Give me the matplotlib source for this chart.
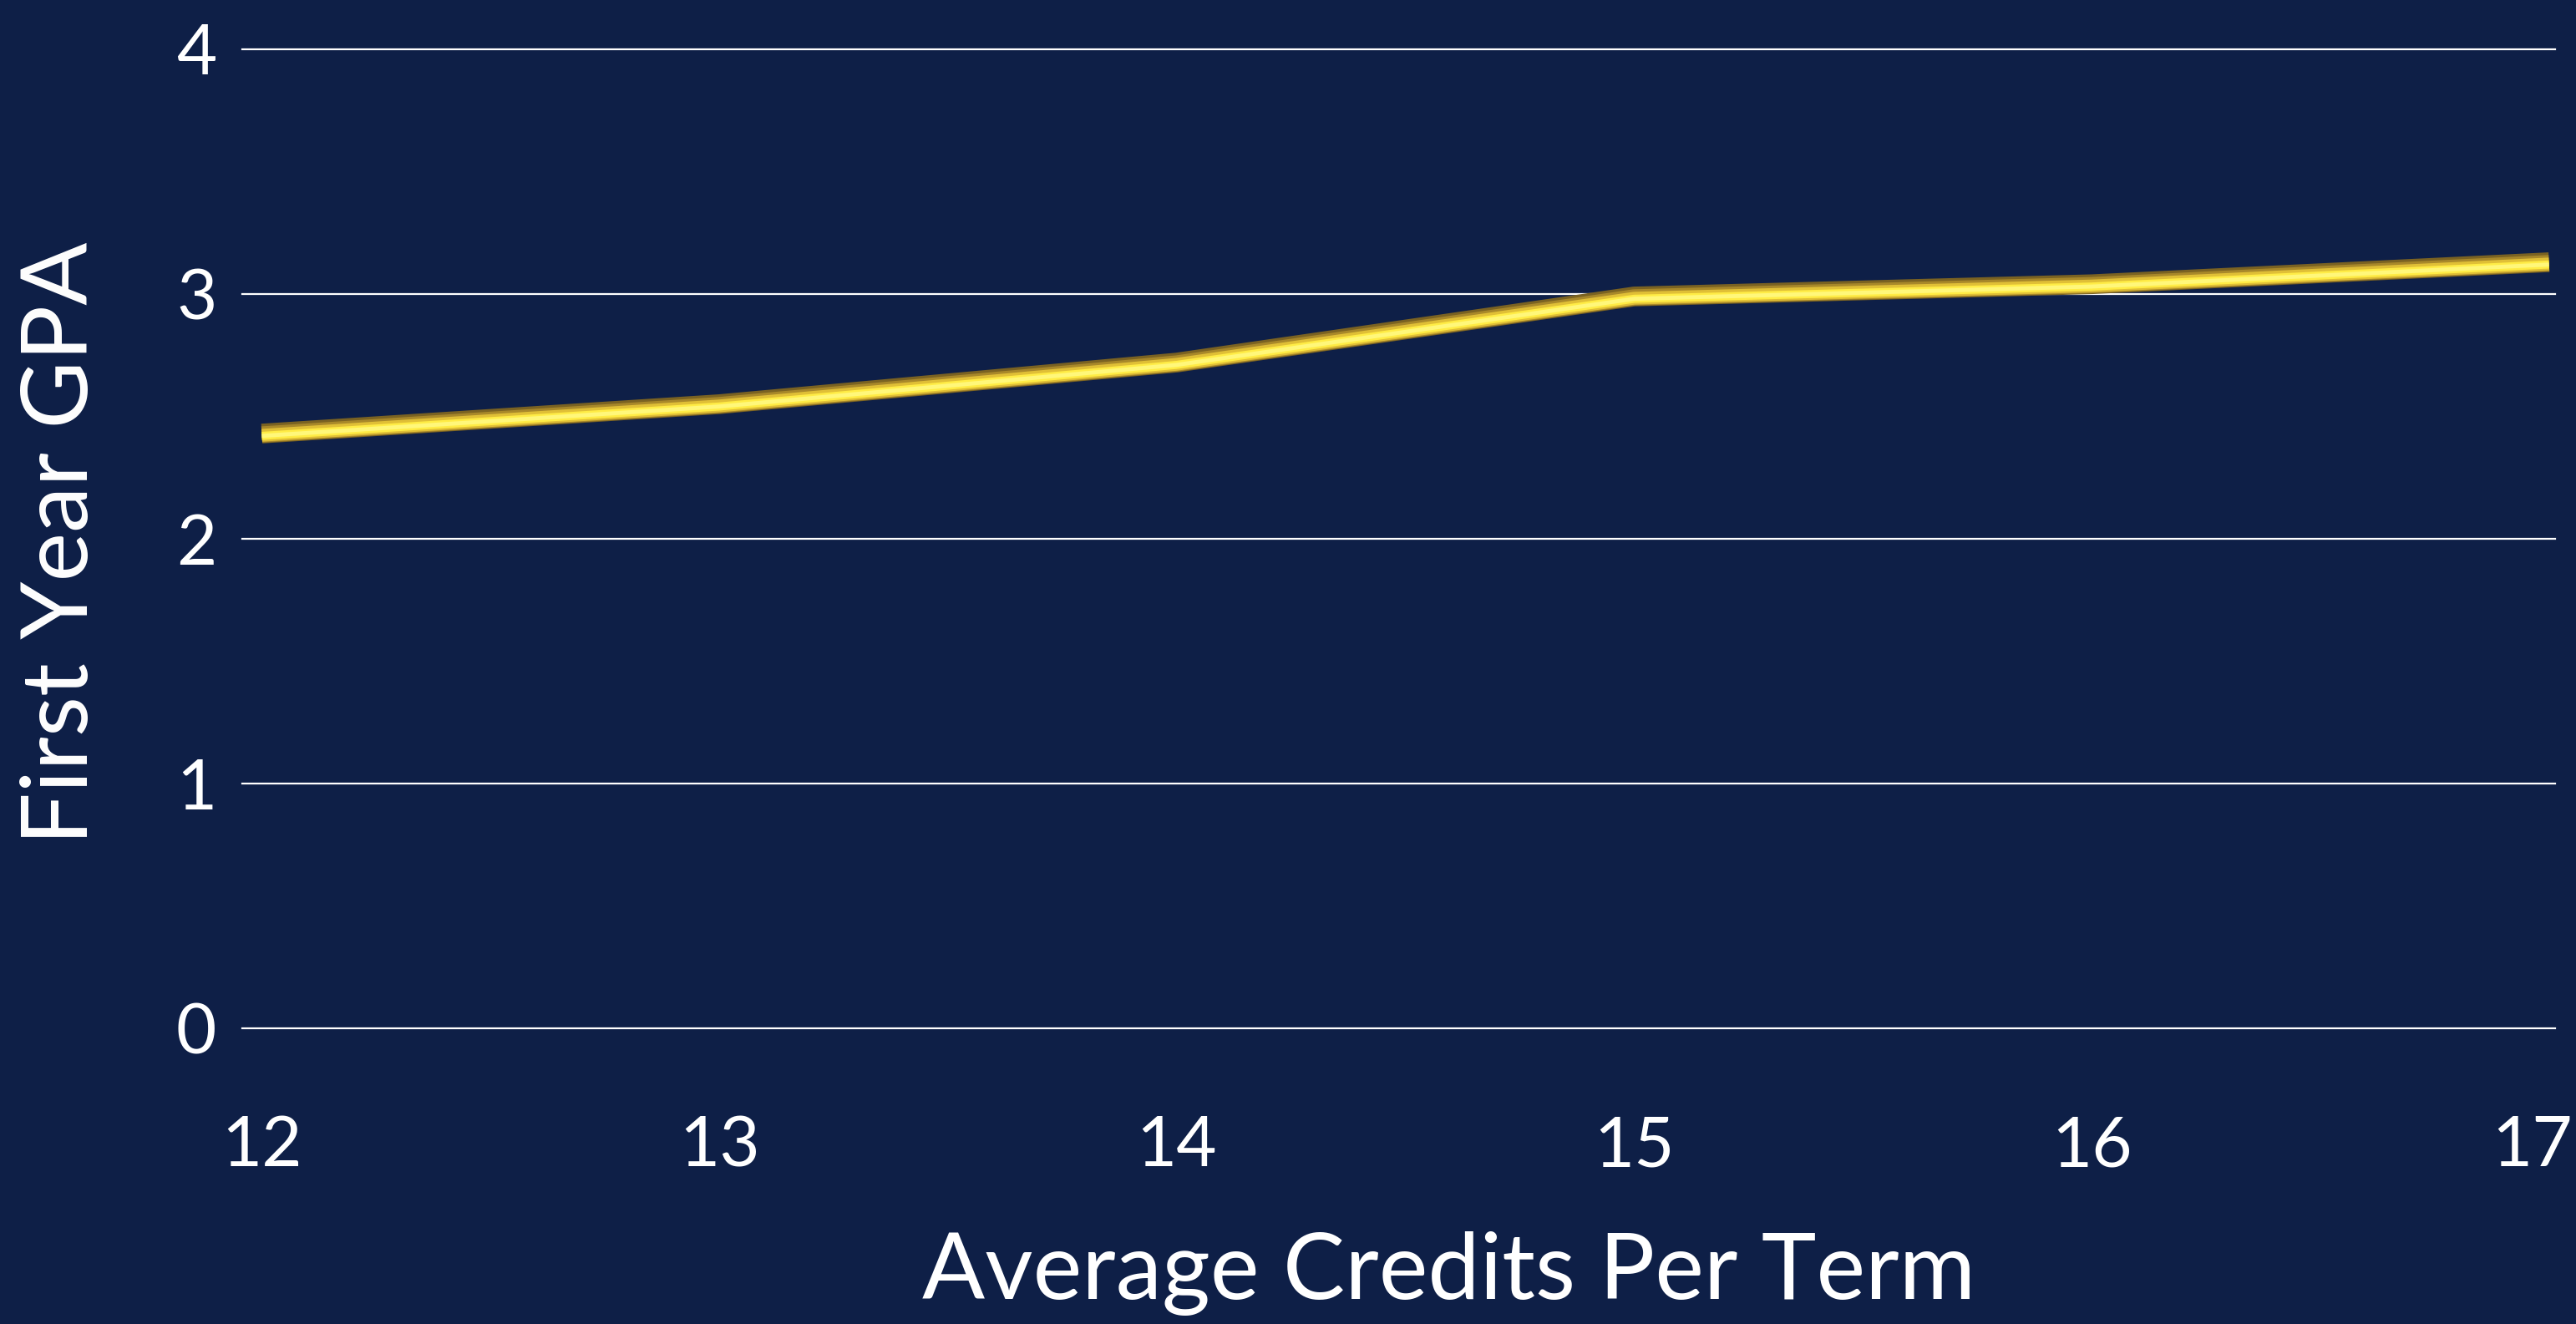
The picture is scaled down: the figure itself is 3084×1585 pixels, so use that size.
import matplotlib
matplotlib.use('Agg')
from matplotlib import pyplot as plt
import matplotlib.patheffects as pe
import matplotlib.transforms as mtransforms

# average credits per term vs first year GPA
credits = [12, 13, 14, 15, 16, 17]
gpa = [2.43, 2.55, 2.72, 2.99, 3.04, 3.13]
yticks = [0, 1, 2, 3, 4]

bg = '#0e1f47'

fig = plt.figure(figsize=(30.84, 15.85), dpi=100, facecolor=bg)
ax = fig.add_axes([0.094, 0.2233, 0.898, 0.7395], facecolor=bg)

# white horizontal gridlines
for v in yticks:
    ax.axhline(v, color='white', lw=1.6, zorder=1, clip_on=False)

# golden tube-like line with a dark shadow underneath
ax.plot(credits, gpa, color='#fff35a', lw=6, solid_capstyle='butt',
        solid_joinstyle='round', zorder=3, clip_on=False,
        path_effects=[
            pe.SimpleLineShadow(offset=(0.5, -3), shadow_color='#050a18', alpha=0.9, rho=1),
            pe.Stroke(linewidth=17, foreground='#7a6222'),
            pe.Stroke(linewidth=14, foreground='#a8882a', offset=(0, -0.8)),
            pe.Stroke(linewidth=11, foreground='#e0bf36', offset=(0, -1.5)),
            pe.Stroke(linewidth=7, foreground='#ffec45', offset=(0, -2)),
            pe.Stroke(linewidth=3.5, foreground='#fff77a', offset=(0, -2)),
        ])

ax.set_xlim(11.957, 17.014)
ax.set_ylim(0, 4)
ax.set_xticks(credits)
ax.set_yticks(yticks)
ax.tick_params(axis='both', length=0, colors='white', labelsize=60)
ax.tick_params(axis='x', pad=75)
ax.tick_params(axis='y', pad=22)
for lbl in ax.get_xticklabels() + ax.get_yticklabels():
    lbl.set_family('Lato')
# pull the last x label in a little so it stays on the canvas
last = ax.get_xticklabels()[-1]
last.set_transform(last.get_transform() +
                   mtransforms.ScaledTranslation(-0.2, 0, fig.dpi_scale_trans))
for s in ax.spines.values():
    s.set_visible(False)

fig.text(0.5625, 0.038, 'Average Credits Per Term', color='white', fontsize=80,
         family='Lato', ha='center', va='center')
fig.text(0.024, 0.59, 'First Year GPA', color='white', fontsize=80,
         family='Lato', rotation=90, ha='center', va='center')

plt.savefig('out.png', dpi=100, facecolor=bg)
